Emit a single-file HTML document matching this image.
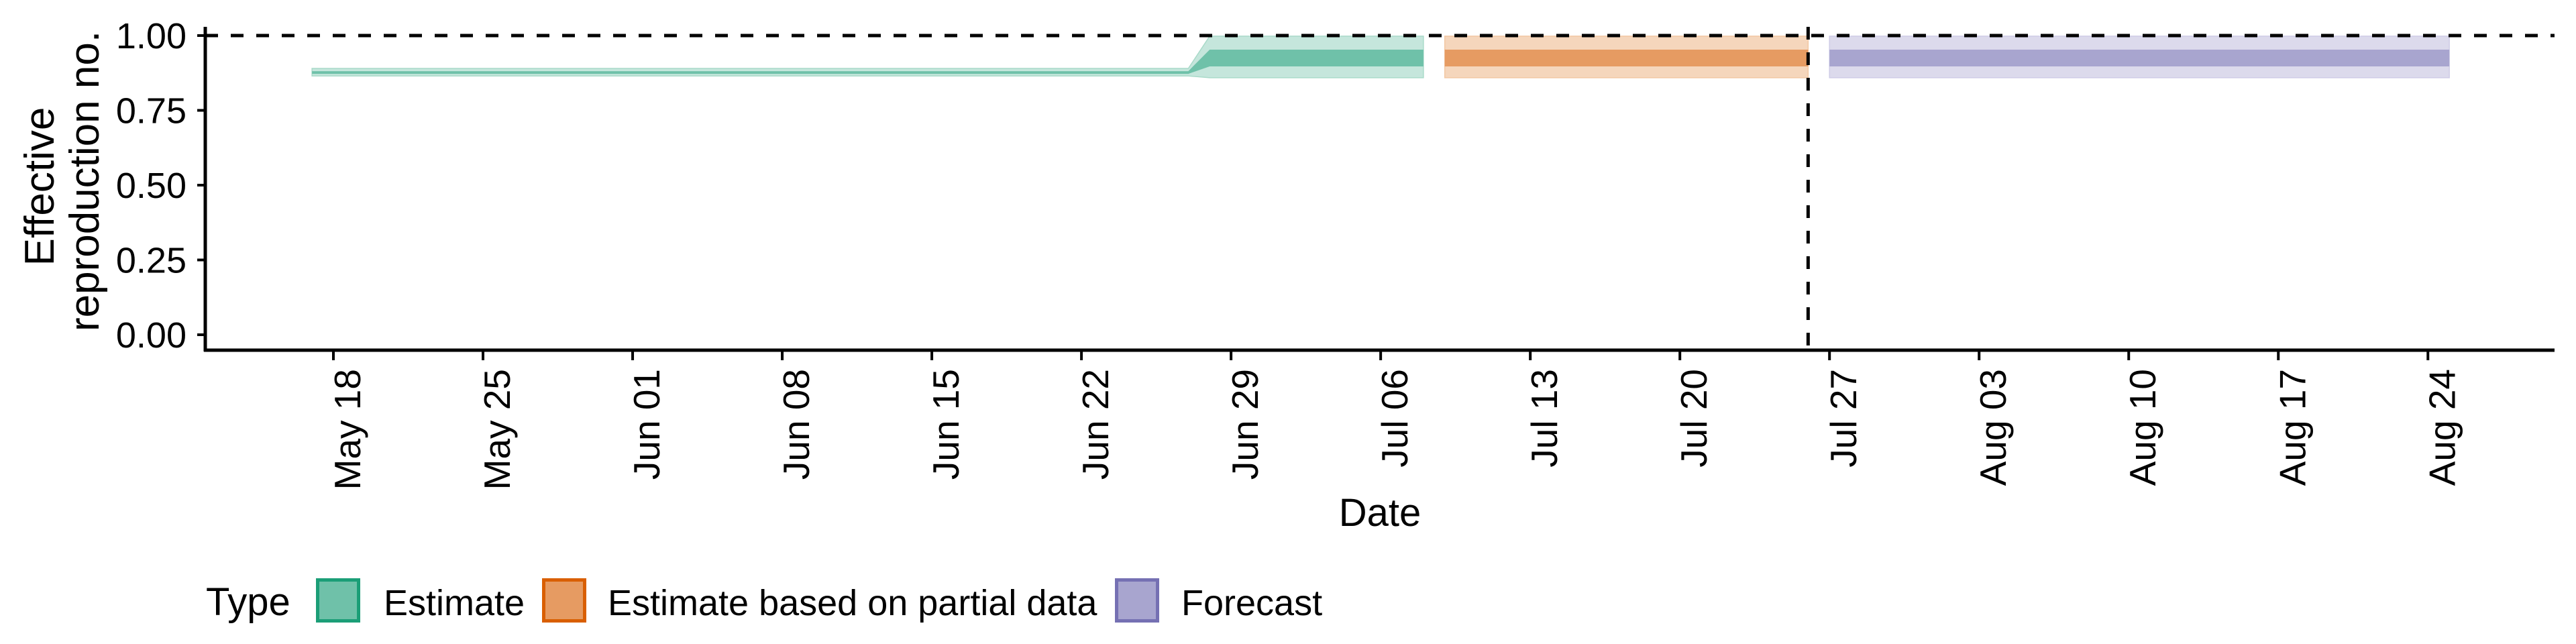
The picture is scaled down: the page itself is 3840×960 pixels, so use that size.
<!DOCTYPE html>
<html><head><meta charset="utf-8"><style>
html,body{margin:0;padding:0;background:#fff;}
svg{display:block;font-family:"Liberation Sans",Arial,sans-serif;}
</style></head><body>
<svg id="chart" width="3840" height="960" viewBox="0 0 3840 960" xmlns="http://www.w3.org/2000/svg">
<g id="ribbons"></g>
<g id="refs"></g>
<g id="axes"></g>
<g id="legend"></g>
</svg>
<script>
// ---- data (day offsets relative to May 18) ----
const estDays   = [-1, 40, 41, 51];
const estLo90   = [0.865, 0.865, 0.859, 0.859];
const estHi90   = [0.890, 0.890, 0.998, 0.998];
const estLo50   = [0.872, 0.872, 0.897, 0.897];
const estHi50   = [0.881, 0.881, 0.953, 0.953];
const partDays  = [52, 69];
const partLo90  = [0.859, 0.859];
const partHi90  = [0.998, 0.998];
const partLo50  = [0.897, 0.897];
const partHi50  = [0.953, 0.953];
const fcDays    = [70, 99];
const fcLo90    = [0.859, 0.859];
const fcHi90    = [0.998, 0.998];
const fcLo50    = [0.897, 0.897];
const fcHi50    = [0.953, 0.953];
const xTickDays   = [0, 7, 14, 21, 28, 35, 42, 49, 56, 63, 70, 77, 84, 91, 98];
const xTickLabels = ["May 18","May 25","Jun 01","Jun 08","Jun 15","Jun 22","Jun 29","Jul 06","Jul 13","Jul 20","Jul 27","Aug 03","Aug 10","Aug 17","Aug 24"];
const yTicks      = [0, 0.25, 0.5, 0.75, 1.0];
const yTickLabels = ["0.00","0.25","0.50","0.75","1.00"];
const forecastStartDay = 69;
const refValue = 1.0;

const NS = "http://www.w3.org/2000/svg";
const L = 306, R = 3808;
const x = d => 497 + d * 31.86;
const y = v => 499 - v * 446;
function mk(tag, attrs, parent) {
  const el = document.createElementNS(NS, tag);
  for (const k in attrs) el.setAttribute(k, attrs[k]);
  parent.appendChild(el);
  return el;
}
const rib = document.getElementById('ribbons');
function band(days, lo, hi, fill, stroke, name) {
  let pts = days.map((d, i) => x(d) + ',' + y(hi[i]));
  for (let i = days.length - 1; i >= 0; i--) pts.push(x(days[i]) + ',' + y(lo[i]));
  const p = mk('polygon', {points: pts.join(' '), fill: fill, stroke: stroke, 'stroke-width': stroke === 'none' ? 0 : 1.5}, rib);
  
  
}
band(estDays, estLo90, estHi90, '#c5e6dc', '#a9dac9', 'estimate-90-ribbon');
band(estDays, estLo50, estHi50, '#6fc1a9', 'none', 'estimate-50-ribbon');
band(partDays, partLo90, partHi90, '#f5d6bc', '#f2c7a3', 'partial-90-ribbon');
band(partDays, partLo50, partHi50, '#e69b62', 'none', 'partial-50-ribbon');
band(fcDays, fcLo90, fcHi90, '#dcdaec', '#cfcce6', 'forecast-90-ribbon');
band(fcDays, fcLo50, fcHi50, '#a8a5cf', 'none', 'forecast-50-ribbon');

const refs = document.getElementById('refs');
let h = mk('line', {x1: L, x2: R, y1: y(refValue), y2: y(refValue), stroke: '#000', 'stroke-width': 5, 'stroke-dasharray': '19 19'}, refs);


let v = mk('line', {x1: x(forecastStartDay), x2: x(forecastStartDay), y1: 40, y2: 522, stroke: '#000', 'stroke-width': 5, 'stroke-dasharray': '19 19'}, refs);



const ax = document.getElementById('axes');
let a1 = mk('line', {x1: L, x2: L, y1: 40, y2: 524, stroke: '#000', 'stroke-width': 5}, ax);


let a2 = mk('line', {x1: L - 2, x2: R, y1: 522, y2: 522, stroke: '#000', 'stroke-width': 5}, ax);


yTicks.forEach((t, i) => {
  const tk = mk('line', {x1: 294, x2: L, y1: y(t), y2: y(t), stroke: '#000', 'stroke-width': 4}, ax);
  
  
  const tx = mk('text', {x: 278, y: y(t) + 19, 'text-anchor': 'end', 'font-size': 54, fill: '#000'}, ax);
  tx.textContent = yTickLabels[i];
  
  
});
xTickDays.forEach((d, i) => {
  const tk = mk('line', {x1: x(d), x2: x(d), y1: 522, y2: 537, stroke: '#000', 'stroke-width': 4}, ax);
  
  
  const tx = mk('text', {transform: 'translate(' + (x(d) + 40) + ',550) rotate(-90)', 'text-anchor': 'end', 'font-size': 55, fill: '#000'}, ax);
  tx.textContent = xTickLabels[i];
  
  
});
const yt = mk('text', {transform: 'translate(80,278) rotate(-90)', 'text-anchor': 'middle', 'font-size': 62, fill: '#000'}, ax);
yt.textContent = 'Effective';


const yt2 = mk('text', {transform: 'translate(147,270) rotate(-90)', 'text-anchor': 'middle', 'font-size': 62, fill: '#000'}, ax);
yt2.textContent = 'reproduction no.';


const xt = mk('text', {x: (L + R) / 2, y: 784, 'text-anchor': 'middle', 'font-size': 58, fill: '#000'}, ax);
xt.textContent = 'Date';



const lg = document.getElementById('legend');
const lt = mk('text', {x: 307, y: 917, 'font-size': 58, fill: '#000'}, lg);
lt.textContent = 'Type';


const legItems = [
  {kx: 471, lx: 572, fill: '#6fc1a9', stroke: '#1b9e77', label: 'Estimate', name: 'legend-entry-estimate'},
  {kx: 808, lx: 906, fill: '#e69b62', stroke: '#d95f02', label: 'Estimate based on partial data', name: 'legend-entry-partial'},
  {kx: 1662, lx: 1761, fill: '#a8a5cf', stroke: '#7570b3', label: 'Forecast', name: 'legend-entry-forecast'}
];
legItems.forEach(it => {
  const g = mk('g', {}, lg);
  
  
  const r = mk('rect', {x: it.kx + 2.5, y: 864.5, width: 61, height: 61, fill: it.fill, stroke: it.stroke, 'stroke-width': 5}, g);
  
  
  const t = mk('text', {x: it.lx, y: 917, 'font-size': 54, fill: '#000'}, g);
  t.textContent = it.label;
  
  
});
</script>
</body></html>
